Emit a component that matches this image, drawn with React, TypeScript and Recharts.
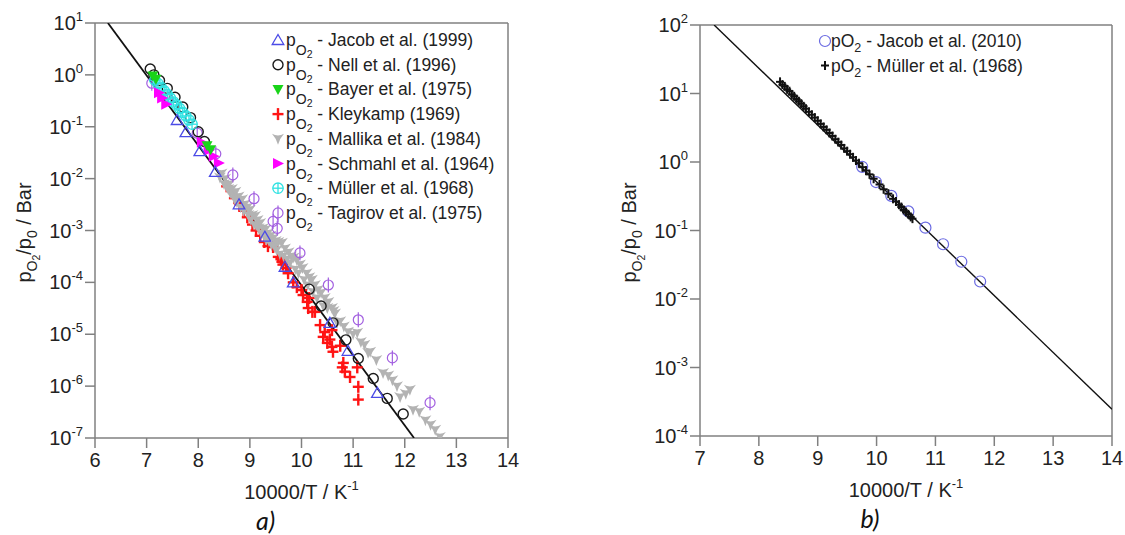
import React from 'react';
import { ScatterChart, Scatter, XAxis, YAxis, Legend } from 'recharts';

const FONT = '"Liberation Sans", Arial, Helvetica, sans-serif';
const AXIS = '#808080';
const TXT = '#222222';

// ---------- Panel a data ----------
const xTicksA = [6, 7, 8, 9, 10, 11, 12, 13, 14];
const yTicksA = [1e-7, 1e-6, 1e-5, 1e-4, 1e-3, 1e-2, 1e-1, 1, 10];

const fitAX = [6.25, 12.18];
const fitAY = [10, 1e-7];

const jacob1999X = [7.59, 7.76, 8.03, 8.33, 8.79, 9.29, 9.68, 9.84, 10.55, 10.9, 11.47];
const jacob1999Y = [0.135, 0.079, 0.034, 0.0135, 0.0032, 7.6e-4, 2.0e-4, 1.0e-4, 1.66e-5, 4.8e-6, 7.4e-7];

const nellX = [7.07, 7.14, 7.25, 7.4, 7.55, 7.7, 7.85, 8.0, 8.12, 10.15, 10.38, 10.61, 10.86, 11.1, 11.39, 11.66, 11.97];
const nellY = [1.3, 1.0, 0.78, 0.55, 0.37, 0.24, 0.15, 0.08, 0.052, 7.4e-5, 3.5e-5, 1.66e-5, 7.8e-6, 3.4e-6, 1.4e-6, 5.8e-7, 2.9e-7];

const bayerX = [7.12, 7.18, 8.17, 8.24];
const bayerY = [0.95, 0.82, 0.043, 0.036];

const kleykampX = [8.55, 8.7, 8.8, 8.88, 8.95, 9.05, 9.12, 9.2, 9.28, 9.35, 9.45, 9.55, 9.6, 9.62, 9.64, 9.7, 9.74, 9.84, 9.91, 10.0, 10.03, 10.11, 10.13, 10.15, 10.21, 10.26, 10.36, 10.42, 10.45, 10.5, 10.55, 10.59, 10.59, 10.61, 10.75, 10.79, 10.81, 10.84, 10.94, 11.08, 11.1, 11.1];
const kleykampY = [7.1e-3, 4.2e-3, 3.2e-3, 2.4e-3, 1.8e-3, 1.3e-3, 1.0e-3, 7.9e-4, 6.0e-4, 5.0e-4, 4.8e-4, 3.1e-4, 2.8e-4, 2.5e-4, 2.2e-4, 1.9e-4, 1.5e-4, 1.0e-4, 8.1e-5, 7.1e-5, 5.7e-5, 4.2e-5, 3.2e-5, 5.0e-5, 2.7e-5, 2.7e-5, 1.5e-5, 8.9e-6, 1.1e-5, 6.8e-6, 7.9e-6, 1.2e-5, 5.7e-6, 4.6e-6, 6.0e-6, 2.3e-6, 2.8e-6, 1.9e-6, 1.5e-6, 2.3e-6, 9.7e-7, 5.5e-7];

const mallikaX = [8.42, 8.45, 8.5, 8.52, 8.55, 8.58, 8.6, 8.62, 8.65, 8.68, 8.7, 8.72, 8.75, 8.78, 8.82, 8.85, 8.88, 8.9, 8.95, 8.97, 9.0, 9.02, 9.05, 9.08, 9.1, 9.12, 9.15, 9.17, 9.2, 9.22, 9.25, 9.28, 9.3, 9.32, 9.35, 9.37, 9.4, 9.42, 9.45, 9.48, 9.5, 9.52, 9.55, 9.58, 9.62, 9.65, 9.68, 9.72, 9.75, 9.78, 9.8, 9.85, 9.88, 9.91, 9.94, 9.97, 10.02, 10.05, 10.1, 10.12, 10.15, 10.2, 10.22, 10.26, 10.3, 10.32, 10.38, 10.42, 10.45, 10.5, 10.52, 10.59, 10.62, 10.65, 10.69, 10.75, 10.82, 10.9, 11.0, 11.08, 11.15, 11.22, 11.29, 11.33, 11.45, 11.58, 11.68, 11.76, 11.85, 11.91, 12.02, 12.1, 12.16, 12.28, 12.4, 12.5, 12.59, 12.68];
const mallikaY = [1.05e-2, 1.26e-2, 7.9e-3, 1.0e-2, 7.1e-3, 6.3e-3, 7.9e-3, 5.2e-3, 6.3e-3, 4.8e-3, 4.0e-3, 5.6e-3, 3.5e-3, 4.5e-3, 2.8e-3, 4.0e-3, 2.4e-3, 3.2e-3, 2.8e-3, 2.0e-3, 2.5e-3, 1.6e-3, 2.0e-3, 1.3e-3, 1.9e-3, 1.26e-3, 1.6e-3, 1.1e-3, 1.4e-3, 8.9e-4, 1.1e-3, 7.6e-4, 1.05e-3, 6.6e-4, 8.9e-4, 6.3e-4, 7.9e-4, 5.2e-4, 7.1e-4, 4.8e-4, 6.3e-4, 4.2e-4, 6.0e-4, 3.5e-4, 5.8e-4, 3.2e-4, 4.5e-4, 2.8e-4, 3.8e-4, 2.4e-4, 3.2e-4, 3.0e-4, 1.8e-4, 2.7e-4, 1.5e-4, 2.2e-4, 1.9e-4, 1.12e-4, 1.5e-4, 8.9e-5, 1.26e-4, 1.12e-4, 6.6e-5, 8.9e-5, 5.0e-5, 7.2e-5, 6.3e-5, 3.5e-5, 5.0e-5, 3.2e-5, 4.2e-5, 3.2e-5, 2.8e-5, 2.5e-5, 1.66e-5, 1.78e-5, 1.41e-5, 1.12e-5, 1.0e-5, 1.07e-5, 7.1e-6, 6.3e-6, 4.4e-6, 4.6e-6, 3.2e-6, 1.8e-6, 1.6e-6, 1.3e-6, 1.0e-6, 6.2e-7, 7.1e-7, 8.5e-7, 3.5e-7, 3.2e-7, 2.2e-7, 1.8e-7, 1.45e-7, 1.05e-7];

const schmahlX = [7.24, 7.3, 7.38, 8.07, 8.2, 8.3, 8.4];
const schmahlY = [0.45, 0.36, 0.27, 0.05, 0.035, 0.027, 0.02];

const mullerAX = [7.16, 7.22, 7.28, 7.34, 7.4, 7.46, 7.52, 7.58, 7.64, 7.7, 7.76, 7.82, 7.88];
const mullerAY = [0.79, 0.68, 0.575, 0.49, 0.42, 0.355, 0.3, 0.263, 0.224, 0.19, 0.162, 0.135, 0.112];

const tagirovX = [7.1, 7.41, 7.98, 8.34, 8.67, 9.08, 9.45, 9.53, 9.97, 10.52, 11.1, 11.76, 12.49];
const tagirovY = [0.69, 0.35, 0.075, 0.03, 0.0118, 0.0041, 0.0015, 0.0011, 3.7e-4, 8.9e-5, 1.9e-5, 3.5e-6, 4.8e-7];

const seriesNamesA = [
  'Jacob et al. (1999)',
  'Nell et al. (1996)',
  'Bayer et al. (1975)',
  'Kleykamp (1969)',
  'Mallika et al. (1984)',
  'Schmahl et al. (1964)',
  'Müller et al. (1968)',
  'Tagirov et al. (1975)',
];

// ---------- Panel b data ----------
const xTicksB = [7, 8, 9, 10, 11, 12, 13, 14];
const yTicksB = [1e-4, 1e-3, 1e-2, 1e-1, 1, 10, 100];

const fitBX = [7.24, 14];
const fitBY = [100, 2.45e-4];

const jacob2010X = [9.755, 9.99, 10.25, 10.54, 10.83, 11.13, 11.44, 11.76];
const jacob2010Y = [0.85, 0.51, 0.32, 0.19, 0.11, 0.063, 0.035, 0.018];

const muller1968X = [8.36, 8.4, 8.44, 8.48, 8.52, 8.56, 8.6, 8.64, 8.68, 8.72, 8.76, 8.8, 8.85, 8.9, 8.95, 9.0, 9.05, 9.1, 9.15, 9.2, 9.25, 9.3, 9.35, 9.4, 9.45, 9.5, 9.55, 9.6, 9.65, 9.7, 9.76, 9.82, 9.88, 9.95, 10.05, 10.12, 10.2, 10.28, 10.33, 10.38, 10.42, 10.46, 10.5, 10.54, 10.58, 10.61];
const muller1968Y = [14.8, 13.5, 12.7, 11.5, 10.8, 9.7, 9.1, 8.3, 7.7, 7.1, 6.5, 6.0, 5.4, 4.9, 4.45, 4.0, 3.6, 3.25, 2.95, 2.65, 2.4, 2.15, 1.95, 1.77, 1.58, 1.44, 1.3, 1.17, 1.05, 0.96, 0.84, 0.75, 0.66, 0.57, 0.47, 0.4, 0.345, 0.29, 0.265, 0.238, 0.22, 0.2, 0.186, 0.172, 0.158, 0.149];

const seriesNamesB = ['Jacob et al. (2010)', 'Müller et al. (1968)'];

// ---------- helpers ----------
const zip = (xs: number[], ys: number[]) => xs.map((x, i) => ({ x, y: ys[i] }));

type P = { cx?: number; cy?: number };

const shapeTriUp = (p: P) => {
  const { cx = 0, cy = 0 } = p;
  return <path d={`M${cx},${cy - 5.5}L${cx + 5.8},${cy + 4.5}L${cx - 5.8},${cy + 4.5}Z`} fill="none" stroke="#4b4be6" strokeWidth={1.3} />;
};
const shapeNell = (p: P) => {
  const { cx = 0, cy = 0 } = p;
  return <circle cx={cx} cy={cy} r={5} fill="none" stroke="#1a1a1a" strokeWidth={1.4} />;
};
const shapeBayer = (p: P) => {
  const { cx = 0, cy = 0 } = p;
  return <path d={`M${cx - 5.5},${cy - 4.5}L${cx + 5.5},${cy - 4.5}L${cx},${cy + 5.5}Z`} fill="#19d419" stroke="none" />;
};
const shapeKley = (p: P) => {
  const { cx = 0, cy = 0 } = p;
  return (
    <g stroke="#ff1414" strokeWidth={2.4}>
      <line x1={cx - 5.5} y1={cy} x2={cx + 5.5} y2={cy} />
      <line x1={cx} y1={cy - 6} x2={cx} y2={cy + 6} />
    </g>
  );
};
const shapeMallika = (p: P) => {
  const { cx = 0, cy = 0 } = p;
  return (
    <path
      d={`M${cx - 6},${cy - 5}Q${cx},${cy - 1.5} ${cx + 6},${cy - 5}Q${cx + 1.5},${cy} ${cx},${cy + 6}Q${cx - 1.5},${cy} ${cx - 6},${cy - 5}Z`}
      fill="#b3b3b3"
      stroke="none"
    />
  );
};
const shapeSchmahl = (p: P) => {
  const { cx = 0, cy = 0 } = p;
  return <path d={`M${cx - 5},${cy - 5.5}L${cx + 6},${cy}L${cx - 5},${cy + 5.5}Z`} fill="#ff00ff" stroke="none" />;
};
const shapeMullerA = (p: P) => {
  const { cx = 0, cy = 0 } = p;
  return (
    <g stroke="#2fe2e2" strokeWidth={1.3} fill="none">
      <circle cx={cx} cy={cy} r={5.2} />
      <line x1={cx - 5.2} y1={cy} x2={cx + 5.2} y2={cy} />
      <line x1={cx} y1={cy - 5.2} x2={cx} y2={cy + 5.2} />
    </g>
  );
};
const shapeTagirov = (p: P) => {
  const { cx = 0, cy = 0 } = p;
  return (
    <g stroke="#a25fe0" strokeWidth={1.2} fill="none">
      <circle cx={cx} cy={cy} r={5} />
      <line x1={cx} y1={cy - 7.5} x2={cx} y2={cy + 7.5} />
    </g>
  );
};
const shapeJacob2010 = (p: P) => {
  const { cx = 0, cy = 0 } = p;
  return <circle cx={cx} cy={cy} r={5.5} fill="none" stroke="#6b6be2" strokeWidth={1.2} />;
};
const shapeMullerB = (p: P) => {
  const { cx = 0, cy = 0 } = p;
  return (
    <g stroke="#111" strokeWidth={2}>
      <line x1={cx - 4} y1={cy} x2={cx + 4} y2={cy} />
      <line x1={cx} y1={cy - 4.5} x2={cx} y2={cy + 4.5} />
    </g>
  );
};
const noShape = () => <g />;

const shapesA = [shapeTriUp, shapeNell, shapeBayer, shapeKley, shapeMallika, shapeSchmahl, shapeMullerA, shapeTagirov];
const shapesB = [shapeJacob2010, shapeMullerB];

const PowTick = (props: any) => {
  const { x, y, payload } = props;
  const e = Math.round(Math.log10(payload.value));
  return (
    <text x={x} y={y} dy={7} textAnchor="end" fontFamily={FONT} fontSize={20} fill={TXT}>
      10<tspan dy={-9} fontSize={13}>{e}</tspan>
    </text>
  );
};

const YTitle = (props: any) => {
  const vb = props.viewBox || { x: 0, y: 0, width: 0, height: 0 };
  const x = vb.x - 4;
  const y = vb.y + vb.height / 2 + 2;
  return (
    <text x={x} y={y} transform={`rotate(-90, ${x}, ${y})`} textAnchor="middle" fontFamily={FONT} fontSize={20} fill={TXT}>
      p<tspan dy={6} fontSize={14}>O</tspan>
      <tspan dy={3} fontSize={10.5}>2</tspan>
      <tspan dy={-9} fontSize={20}>/p</tspan>
      <tspan dy={6} fontSize={14}>0</tspan>
      <tspan dy={-6} fontSize={20}>{' / Bar'}</tspan>
    </text>
  );
};

const makeXTitle = (panel: string) => (props: any) => {
  const vb = props.viewBox || { x: 0, y: 0, width: 0, height: 0 };
  const cx = vb.x + vb.width / 2;
  return (
    <g>
      <text x={cx} y={vb.y + 61} textAnchor="middle" fontFamily={FONT} fontSize={20} fill={TXT}>
        10000/T / K<tspan dy={-9} fontSize={13}>-1</tspan>
      </text>
      <text x={cx - 36} y={vb.y + 92} textAnchor="middle" fontFamily="Lato, 'Open Sans', sans-serif" fontStyle="italic" fontSize={25} fill="#111">
        {panel}
      </text>
    </g>
  );
};

const LegendA = () => (
  <svg width={560} height={240} style={{ overflow: 'visible', display: 'block' }}>
    {seriesNamesA.map((name, i) => {
      const cy = 40 + i * 24.7;
      return (
        <g key={name}>
          {shapesA[i]({ cx: 278, cy })}
          <text x={286} y={cy + 6} fontFamily={FONT} fontSize={17.5} fill={TXT}>
            p<tspan dy={9} fontSize={14}>O</tspan>
            <tspan dy={3} fontSize={10.5}>2</tspan>
            <tspan dy={-12} fontSize={17.5}>{' - ' + name}</tspan>
          </text>
        </g>
      );
    })}
  </svg>
);

const LegendB = () => (
  <svg width={565} height={100} style={{ overflow: 'visible', display: 'block' }}>
    {seriesNamesB.map((name, i) => {
      const cy = 41 + i * 24.5;
      return (
        <g key={name}>
          {shapesB[i]({ cx: 265, cy })}
          <text x={271} y={cy + 6} fontFamily={FONT} fontSize={17.5} fill={TXT}>
            pO<tspan dy={5} fontSize={12.5}>2</tspan>
            <tspan dy={-5} fontSize={17.5}>{' - ' + name}</tspan>
          </text>
        </g>
      );
    })}
  </svg>
);

const axisLineStyle = { stroke: AXIS, strokeWidth: 1.5 };

export default function App() {
  const fitA = zip(fitAX, fitAY);
  const fitB = zip(fitBX, fitBY);
  return (
    <div style={{ position: 'absolute', left: 0, top: 0, width: 1125, height: 535, background: '#fff' }}>
      <div style={{ position: 'absolute', left: 0, top: 0 }}>
        <ScatterChart width={560} height={535} margin={{ top: 13, right: 42, bottom: 57, left: 35 }}>
          <XAxis xAxisId="b" type="number" dataKey="x" domain={[6, 14]} ticks={xTicksA} allowDataOverflow
            axisLine={axisLineStyle} tickLine={axisLineStyle} tickSize={10} tickMargin={5} height={40}
            tick={{ fontSize: 20, fill: TXT, fontFamily: FONT }} label={makeXTitle('a)')} />
          <XAxis xAxisId="t" orientation="top" type="number" dataKey="x" domain={[6, 14]} ticks={xTicksA} allowDataOverflow
            axisLine={axisLineStyle} tickLine={axisLineStyle} tickSize={10} tick={false} height={10} />
          <YAxis yAxisId="l" type="number" dataKey="y" scale="log" domain={[1e-7, 10]} ticks={yTicksA} allowDataOverflow
            axisLine={axisLineStyle} tickLine={axisLineStyle} tickSize={10} tickMargin={2} width={60}
            tick={<PowTick />} label={<YTitle />} />
          <YAxis yAxisId="r" orientation="right" type="number" dataKey="y" scale="log" domain={[1e-7, 10]} ticks={yTicksA} allowDataOverflow
            axisLine={axisLineStyle} tickLine={axisLineStyle} tickSize={10} tick={false} width={10} />
          <Legend content={() => <LegendA />} layout="vertical" align="center" verticalAlign="middle"
            wrapperStyle={{ left: 0, top: 0, width: 560, height: 240 }} />
          <Scatter xAxisId="b" yAxisId="l" data={fitA} line={{ stroke: '#111', strokeWidth: 1.8 }} shape={noShape} isAnimationActive={false} legendType="none" />
          <Scatter xAxisId="b" yAxisId="l" data={zip(kleykampX, kleykampY)} shape={shapeKley} isAnimationActive={false} />
          <Scatter xAxisId="b" yAxisId="l" data={zip(mallikaX, mallikaY)} shape={shapeMallika} isAnimationActive={false} />
          <Scatter xAxisId="b" yAxisId="l" data={zip(tagirovX, tagirovY)} shape={shapeTagirov} isAnimationActive={false} />
          <Scatter xAxisId="b" yAxisId="l" data={zip(nellX, nellY)} shape={shapeNell} isAnimationActive={false} />
          <Scatter xAxisId="b" yAxisId="l" data={zip(mullerAX, mullerAY)} shape={shapeMullerA} isAnimationActive={false} />
          <Scatter xAxisId="b" yAxisId="l" data={zip(schmahlX, schmahlY)} shape={shapeSchmahl} isAnimationActive={false} />
          <Scatter xAxisId="b" yAxisId="l" data={zip(bayerX, bayerY)} shape={shapeBayer} isAnimationActive={false} />
          <Scatter xAxisId="b" yAxisId="l" data={zip(jacob1999X, jacob1999Y)} shape={shapeTriUp} isAnimationActive={false} />
        </ScatterChart>
      </div>
      <div style={{ position: 'absolute', left: 560, top: 0 }}>
        <ScatterChart width={565} height={535} margin={{ top: 15, right: 3, bottom: 59, left: 80 }}>
          <XAxis xAxisId="b" type="number" dataKey="x" domain={[7, 14]} ticks={xTicksB} allowDataOverflow
            axisLine={axisLineStyle} tickLine={axisLineStyle} tickSize={10} tickMargin={5} height={40}
            tick={{ fontSize: 20, fill: TXT, fontFamily: FONT }} label={makeXTitle('b)')} />
          <XAxis xAxisId="t" orientation="top" type="number" dataKey="x" domain={[7, 14]} ticks={xTicksB} allowDataOverflow
            axisLine={axisLineStyle} tickLine={axisLineStyle} tickSize={10} tick={false} height={10} />
          <YAxis yAxisId="l" type="number" dataKey="y" scale="log" domain={[1e-4, 100]} ticks={yTicksB} allowDataOverflow
            axisLine={axisLineStyle} tickLine={axisLineStyle} tickSize={10} tickMargin={2} width={60}
            tick={<PowTick />} label={<YTitle />} />
          <YAxis yAxisId="r" orientation="right" type="number" dataKey="y" scale="log" domain={[1e-4, 100]} ticks={yTicksB} allowDataOverflow
            axisLine={axisLineStyle} tickLine={axisLineStyle} tickSize={10} tick={false} width={10} />
          <Legend content={() => <LegendB />} layout="vertical" align="center" verticalAlign="middle"
            wrapperStyle={{ left: 0, top: 0, width: 565, height: 100 }} />
          <Scatter xAxisId="b" yAxisId="l" data={fitB} line={{ stroke: '#111', strokeWidth: 1.4 }} shape={noShape} isAnimationActive={false} legendType="none" />
          <Scatter xAxisId="b" yAxisId="l" data={zip(jacob2010X, jacob2010Y)} shape={shapeJacob2010} isAnimationActive={false} />
          <Scatter xAxisId="b" yAxisId="l" data={zip(muller1968X, muller1968Y)} shape={shapeMullerB} isAnimationActive={false} />
        </ScatterChart>
      </div>
    </div>
  );
}
